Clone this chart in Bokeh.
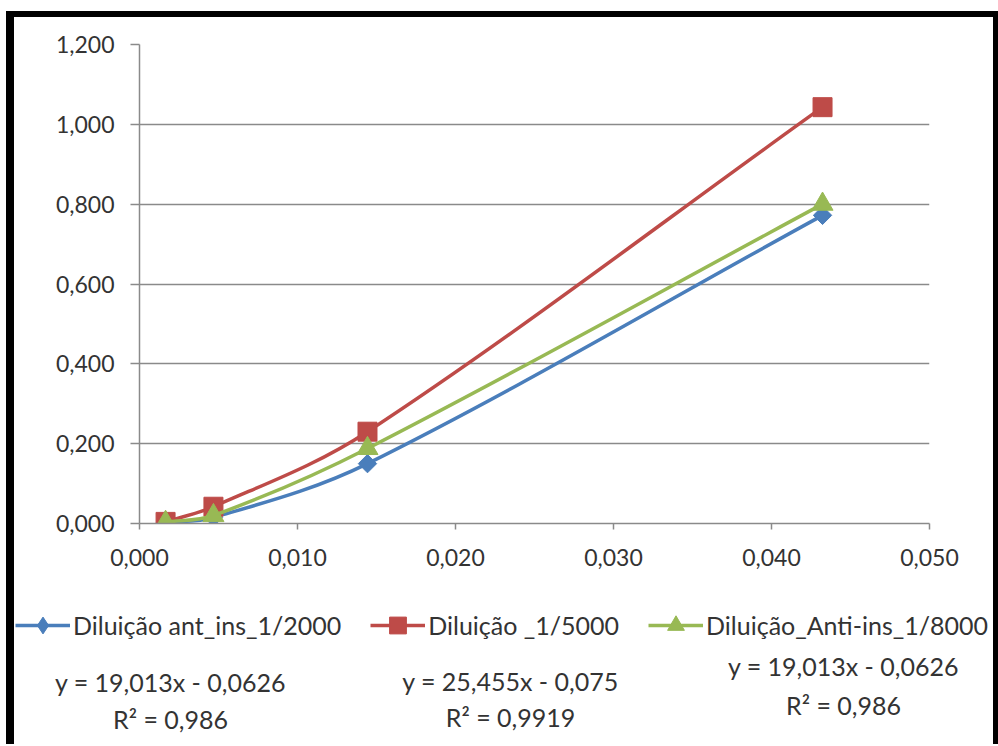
import math
from bokeh.plotting import figure
from bokeh.layouts import column
from bokeh.models import (FixedTicker, CustomJSTickFormatter, Legend, LegendItem,
                          Label, ColumnDataSource, Range1d)
from bokeh.embed import file_html
from bokeh.resources import INLINE

# ---- data ----
x_conc = [0.00165, 0.00468, 0.01443, 0.04323]
y_2000 = [0.002, 0.015, 0.150, 0.772]
y_5000 = [0.004, 0.042, 0.230, 1.043]
y_8000 = [0.003, 0.020, 0.188, 0.800]
names = ["Diluição ant_ins_1/2000", "Diluição _1/5000", "Diluição_Anti-ins_1/8000"]
colors = ["#4a7ebb", "#be4b48", "#98b954"]
markers = ["square", "square", "triangle"]
legend_markers = ["diamond", "square", "triangle"]
marker_sizes = [13, 19, 21]
marker_angles = [math.pi / 4, 0.0, 0.0]
equations = ["y = 19,013x - 0,0626", "y = 25,455x - 0,075", "y = 19,013x - 0,0626"]
r2_texts = ["R² = 0,986", "R² = 0,9919", "R² = 0,986"]
x_ticks = [0.0, 0.01, 0.02, 0.03, 0.04, 0.05]
y_ticks = [0.0, 0.2, 0.4, 0.6, 0.8, 1.0, 1.2]

FONT = "Lato"
TXT = "#333333"
GRID = "#8a8a8a"
W = 979
H1 = 575
H2 = 152

p = figure(width=W, height=H1, x_range=(0, 0.05), y_range=(0, 1.2),
           output_backend="svg", toolbar_location=None,
           min_border_left=125, min_border_right=64, min_border_top=27,
           min_border_bottom=69)
p.outline_line_color = None
p.background_fill_color = "white"
p.border_fill_color = "white"

fmt = CustomJSTickFormatter(code="return tick.toFixed(3).replace('.', ',');")
p.xaxis.ticker = FixedTicker(ticks=x_ticks)
p.yaxis.ticker = FixedTicker(ticks=y_ticks)
p.xaxis.formatter = fmt
p.yaxis.formatter = fmt
for ax in (p.xaxis, p.yaxis):
    ax.axis_line_color = GRID
    ax.axis_line_width = 1.5
    ax.major_tick_line_color = GRID
    ax.major_tick_line_width = 1.5
    ax.minor_tick_line_color = None
    ax.major_tick_in = 0
    ax.major_label_text_font = FONT
    ax.major_label_text_font_size = "23px"
    ax.major_label_text_color = TXT
p.yaxis.major_tick_out = 9
p.xaxis.major_tick_out = 6
p.yaxis.major_label_standoff = 16
p.xaxis.major_label_standoff = 19
p.xgrid.grid_line_color = None
p.ygrid.grid_line_color = GRID
p.ygrid.grid_line_width = 1.5


def bezier_source(xs, ys):
    # smooth (Excel-like) curve: cubic Hermite segments expressed as Bezier controls
    n = len(xs)
    m = []
    for k in range(n):
        a = max(k - 1, 0)
        b = min(k + 1, n - 1)
        m.append((ys[b] - ys[a]) / (xs[b] - xs[a]))
    d = dict(x0=[], y0=[], x1=[], y1=[], cx0=[], cy0=[], cx1=[], cy1=[])
    for i in range(n - 1):
        h = xs[i + 1] - xs[i]
        d["x0"].append(xs[i]); d["y0"].append(ys[i])
        d["x1"].append(xs[i + 1]); d["y1"].append(ys[i + 1])
        d["cx0"].append(xs[i] + h / 3); d["cy0"].append(ys[i] + m[i] * h / 3)
        d["cx1"].append(xs[i + 1] - h / 3); d["cy1"].append(ys[i + 1] - m[i + 1] * h / 3)
    return ColumnDataSource(d)


# bottom panel: legend + trendline equations (pixel-like coordinates)
q = figure(width=W, height=H2, x_range=Range1d(0, W), y_range=Range1d(H2, 0),
           output_backend="svg", toolbar_location=None,
           min_border=0, min_border_left=0, min_border_right=0,
           min_border_top=0, min_border_bottom=0)
q.axis.visible = False
q.grid.visible = False
q.outline_line_color = None
q.background_fill_color = "white"
q.border_fill_color = "white"

items = []
for ys, name, c, mk, lmk, s, ang in zip([y_2000, y_5000, y_8000], names, colors, markers,
                                        legend_markers, marker_sizes, marker_angles):
    src = bezier_source(x_conc, ys)
    p.bezier(x0="x0", y0="y0", x1="x1", y1="y1", cx0="cx0", cy0="cy0",
             cx1="cx1", cy1="cy1", source=src, line_color=c, line_width=3.5)
    p.scatter(x_conc, ys, marker=mk, size=s, angle=ang, fill_color=c, line_color=c)
    # hidden legend proxies in the bottom panel
    lr = q.line(x_conc, ys, line_color=c, line_width=3.5, visible=False)
    sr = q.scatter(x_conc, ys, marker=lmk, size=s, fill_color=c,
                   line_color=c, visible=False)
    items.append(LegendItem(label=name, renderers=[lr, sr]))

legend = Legend(items=items, orientation="horizontal", location=(1, 98),
                glyph_width=55, glyph_height=42, label_standoff=3, spacing=29,
                padding=0, margin=0, border_line_color=None,
                background_fill_alpha=0, click_policy="none",
                label_text_font=FONT, label_text_font_size="25px",
                label_text_color=TXT, label_height=42)
q.add_layout(legend, "center")

eq_x = [156, 496, 829]
eq_y = [89, 88, 73]
r2_y = [126, 124, 112]
for ex, ey, ry, eq, r2 in zip(eq_x, eq_y, r2_y, equations, r2_texts):
    q.add_layout(Label(x=ex, y=ey, text=eq,
                       text_align="center", text_baseline="middle",
                       text_font=FONT, text_font_size="25px", text_color=TXT))
    q.add_layout(Label(x=ex, y=ry, text=r2,
                       text_align="center", text_baseline="middle",
                       text_font=FONT, text_font_size="25px", text_color=TXT))

top = column(p, spacing=0,
             styles={"margin-left": "6px", "margin-top": "11px",
                     "border-left": "8px solid black", "border-top": "6px solid black",
                     "border-right": "5px solid black"})
bottom = column(q, spacing=0,
                styles={"margin-left": "6px",
                        "border-left": "8px solid black",
                        "border-right": "5px solid black"})

open("out.html", "w").write(file_html([top, bottom], INLINE))
